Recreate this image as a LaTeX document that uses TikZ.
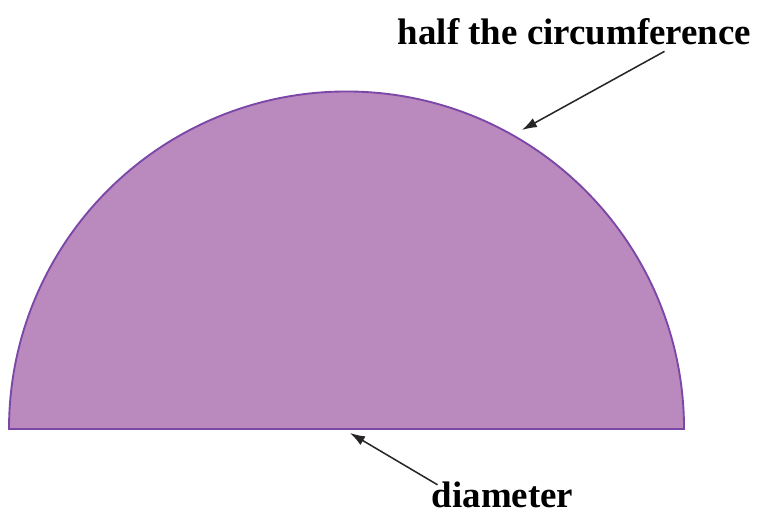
\documentclass[tikz,border=0pt]{standalone}
\usepackage{fontspec}
\setmainfont{Liberation Serif}
\usepackage{tikz}
\usetikzlibrary{arrows.meta,positioning,calc}
\usepackage{xcolor}
\definecolor{discfill}{HTML}{BA89BE}
\definecolor{discedge}{HTML}{7B48A8}
\tikzset{
  halfdisc/.style={
    fill=discfill,
    draw=discedge,
    line width=1.6pt
  },
  labeltext/.style={
    font=\fontsize{31.5}{36}\selectfont\bfseries,
    inner sep=2pt,
    anchor=base
  },
  arrow/.style={
    -{Latex[length=4.5mm,width=3mm]},
    line width=1.3pt,
    draw=black!85
  }
}

\begin{document}
\begin{tikzpicture}[x=0.03cm,y=0.03cm]
\useasboundingbox (0,0) rectangle (759,516);
\coordinate (ctr) at (346.5,87);
\draw[halfdisc] (9,87) arc[start angle=180,end angle=0,radius=10.125cm] -- cycle;
\node[labeltext] (half) at (574.5,471) {half the circumference};
\node[labeltext] (diam) at (502.5,8) {diameter};
\coordinate (arctip) at ($(ctr)+(59.6:10.4cm)$);
\coordinate (basetip) at ($(ctr)+(3.5,-4)$);
\draw[arrow] ([xshift=2.7cm,yshift=-0.1cm]half.south) -- (arctip);
\draw[arrow] ([xshift=0.25cm,yshift=-0.15cm]diam.north west) -- (basetip);
\end{tikzpicture}
\end{document}
